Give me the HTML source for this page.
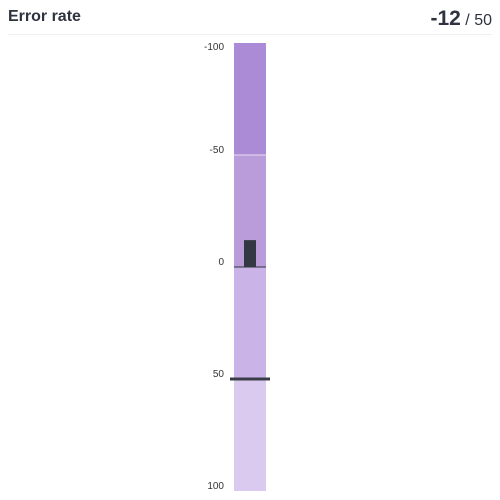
<!DOCTYPE html>
<html><head><meta charset="utf-8"><style>
body{margin:0;width:500px;height:500px;background:#fff;font-family:"Liberation Sans",sans-serif;overflow:hidden}
#card{position:absolute;left:0;top:0;width:500px;height:500px;background:#fff;border-radius:6px}
#title{position:absolute;left:8px;top:8px;font-size:16px;font-weight:bold;color:#2f3340}
#val{position:absolute;right:8px;top:7px;color:#2f3340;font-size:16px}
#val b{font-size:21px}
#rule{position:absolute;left:8px;right:8px;top:34px;height:1px;background:#f0f0f2}
</style></head><body>
<div id="card">
<div id="title">Error rate</div>
<div id="val"><b>-12</b> / 50</div>
<div id="rule"></div>
<svg id="svg" width="500" height="500" style="position:absolute;left:0;top:0"></svg>
</div>
<script>
const ticks=[-100,-50,0,50,100];
const bands=[-100,-50,0,50,100];
const bandColors=["#ab8ad6","#bb9cda","#cab3e6","#dacaf0"];
const value=-12;
const target=50;
const domain=[-100,100];
const ns="http://www.w3.org/2000/svg";
const svg=document.getElementById('svg');
const y=v=>43+(v-domain[0])/(domain[1]-domain[0])*448;
function mk(t,a){const e=document.createElementNS(ns,t);for(const k in a)e.setAttribute(k,a[k]);svg.appendChild(e);return e;}
for(let i=0;i<bands.length-1;i++){
 const r=mk('rect',{x:234,y:y(bands[i]),width:32,height:y(bands[i+1])-y(bands[i]),fill:bandColors[i]});
 
 
}
const sep=mk('line',{x1:234,x2:266,y1:y(-50),y2:y(-50),stroke:'#ffffff','stroke-opacity':0.7,'stroke-width':1});


const zl=mk('line',{x1:234,x2:266,y1:y(0),y2:y(0),stroke:'#2f3340','stroke-width':1});


const vb=mk('rect',{x:244,y:Math.min(y(0),y(value)),width:12,height:Math.abs(y(value)-y(0)),fill:'#343842'});


const tg=mk('line',{x1:230,x2:270,y1:y(target),y2:y(target),stroke:'#3a3d48','stroke-width':3});


ticks.forEach(t=>{
 const by=Math.min(490,Math.max(50,y(t)-2));
 const tx=mk('text',{x:224,y:by,'text-anchor':'end','font-size':10,fill:'#333'});
 tx.textContent=t;
 
 
});
</script>
</body></html>
